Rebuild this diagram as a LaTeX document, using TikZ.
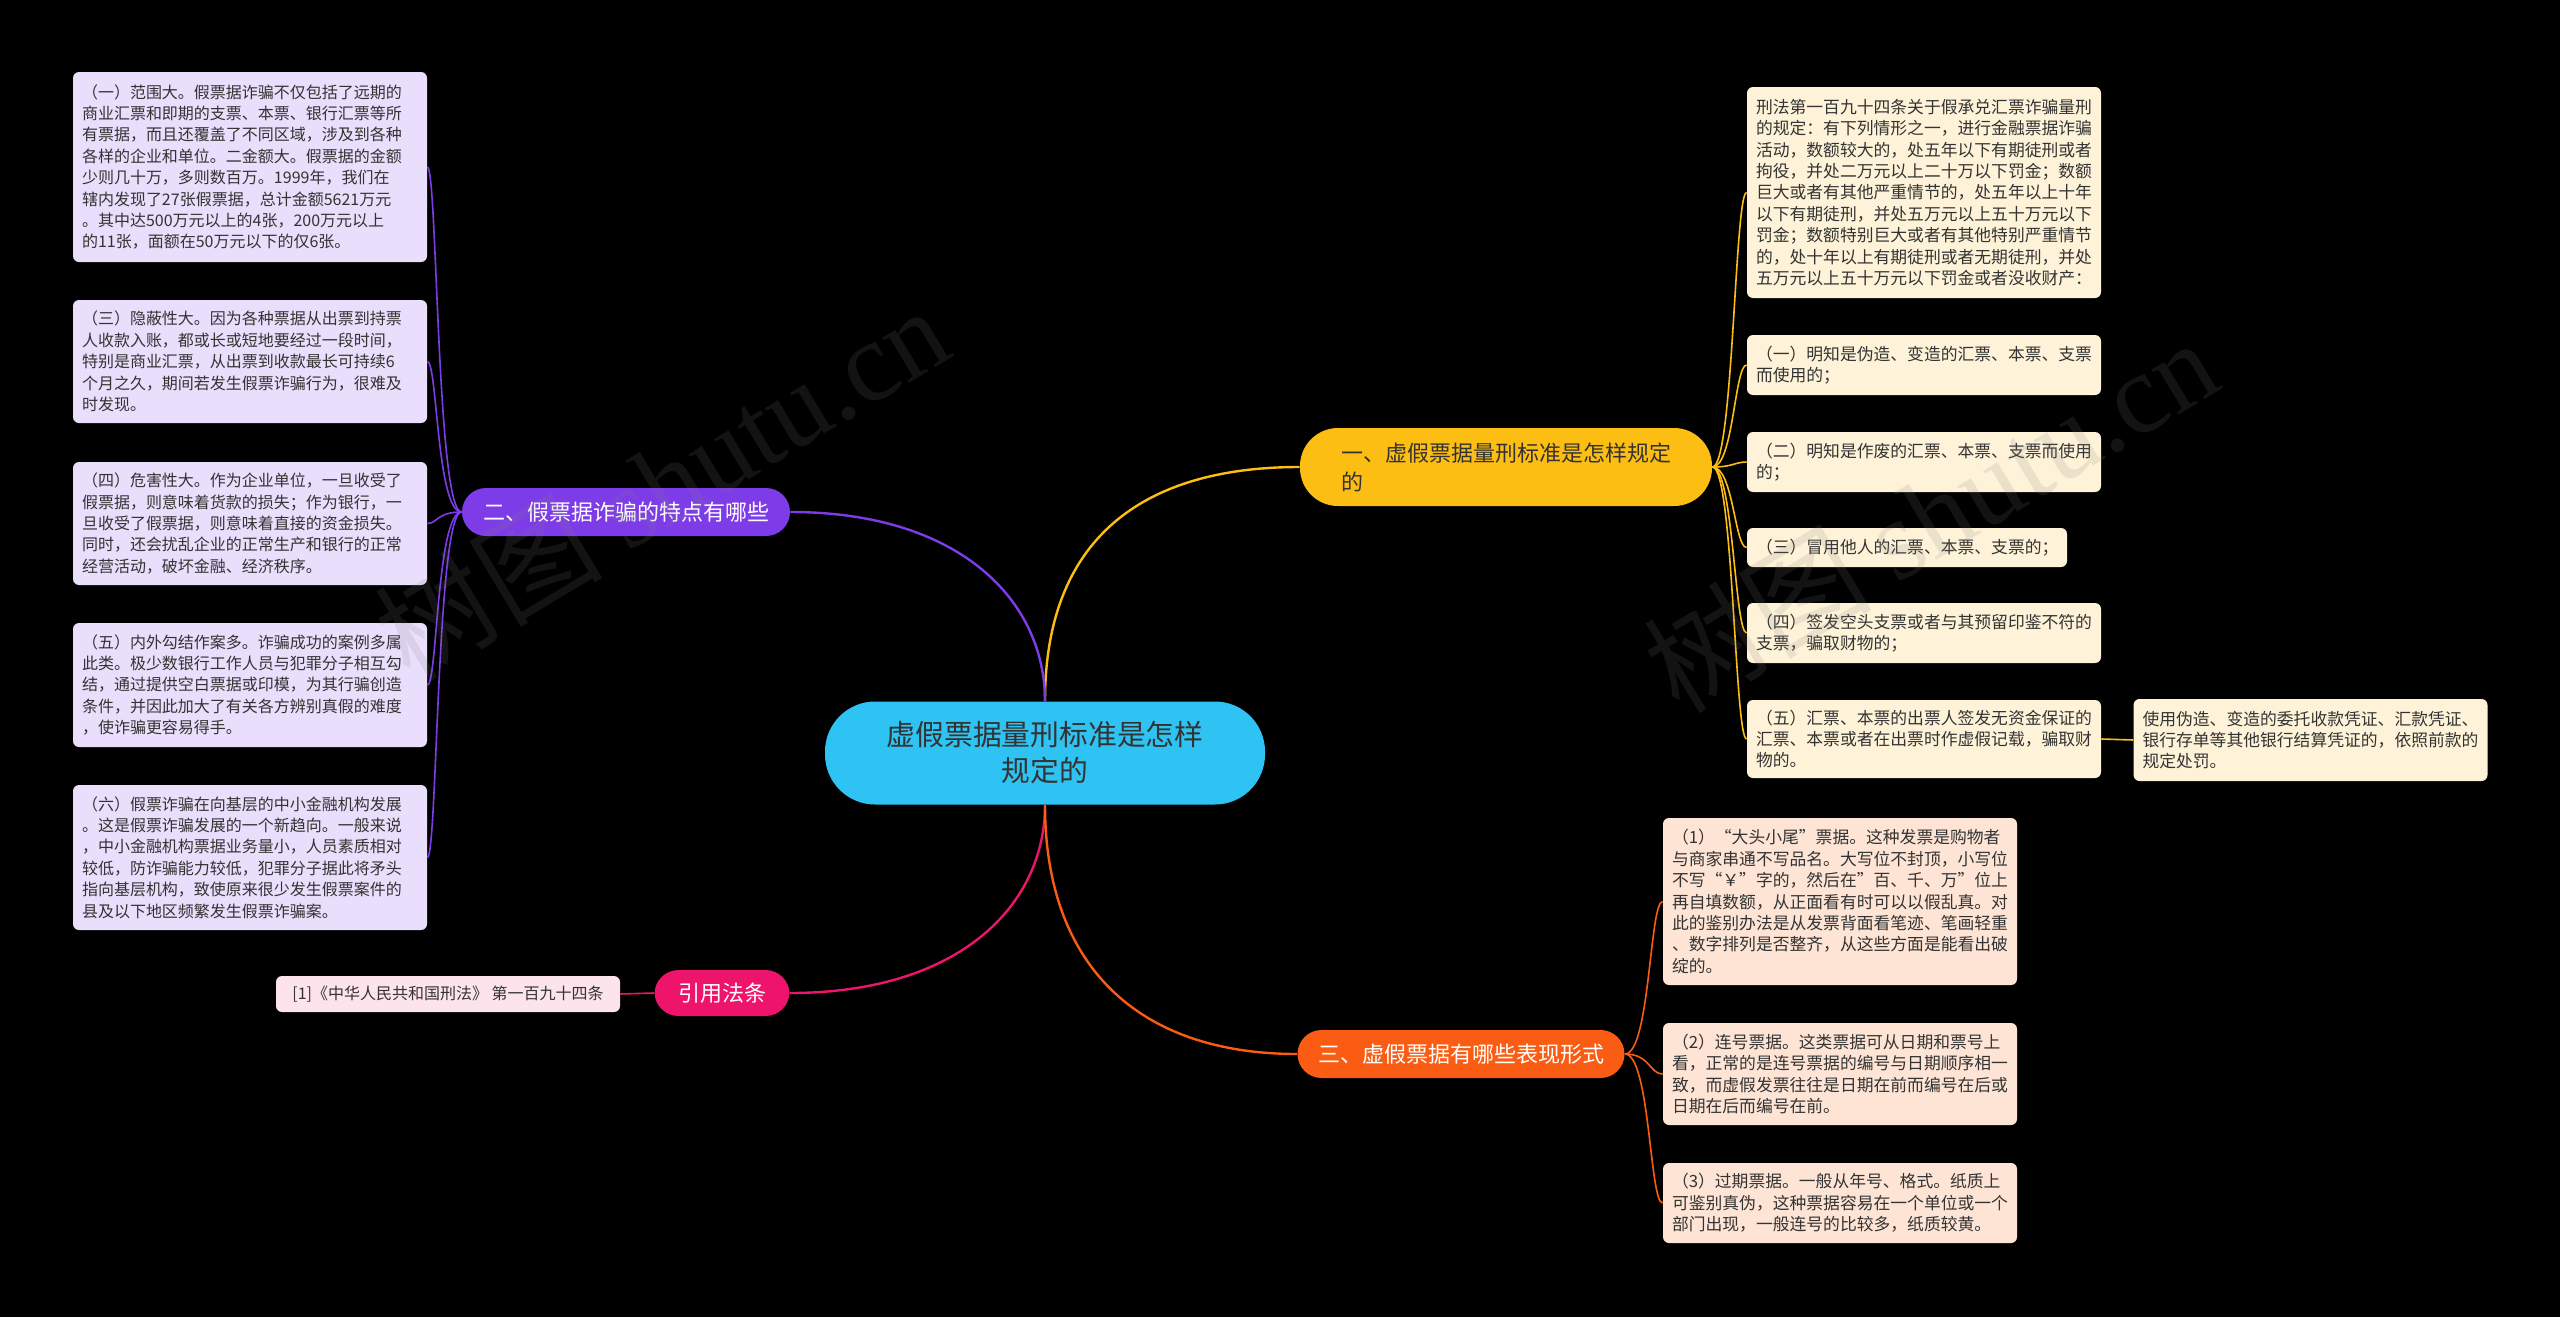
\documentclass[tikz,border=0pt]{standalone}
\usepackage{fontspec}
\setmainfont{Noto Sans CJK SC}
\newfontfamily\wmfont{Liberation Serif}
\definecolor{rootcyan}{HTML}{2EC3F2}
\definecolor{topicyellow}{HTML}{FDBE14}
\definecolor{topicpurple}{HTML}{7D3CE8}
\definecolor{topicpink}{HTML}{EF146B}
\definecolor{topicorange}{HTML}{F95C12}
\definecolor{leafpurple}{HTML}{E9DEFB}
\definecolor{leafyellow}{HTML}{FEF3D8}
\definecolor{leaforange}{HTML}{FDE4D5}
\definecolor{leafpink}{HTML}{FDE3EC}
\definecolor{inktext}{HTML}{333333}
\tikzset{
  root/.style={fill=rootcyan, text=inktext, rounded corners=25pt, minimum width=220pt, minimum height=51.5pt, align=center, font=\fontsize{14.4pt}{18pt}\selectfont},
  topic/.style={rounded corners=12pt, minimum height=24pt, inner xsep=0pt, text=white, align=center, font=\fontsize{11pt}{14.5pt}\selectfont},
  leaf/.style={rounded corners=3pt, inner xsep=4.5pt, inner ysep=0pt, align=left, text=inktext},
  lleaf/.style={leaf, fill=leafpurple, text width=168pt, font=\fontsize{8pt}{10.7pt}\selectfont},
  rleaf/.style={leaf, fill=leafyellow, text width=168pt, font=\fontsize{8.4pt}{10.7pt}\selectfont},
  oleaf/.style={leaf, fill=leaforange, text width=168pt, font=\fontsize{8.4pt}{10.7pt}\selectfont},
  link/.style={line width=1.2pt},
  twig/.style={line width=0.8pt},
  wmark/.style={text=gray, text opacity=0.15, rotate=31, font=\fontsize{57pt}{57pt}\selectfont}
}

\begin{document}
\begin{tikzpicture}[x=0.5pt, y=-0.5pt]
  \fill[black] (0,0) rectangle (2560,1317);

  \node[root] (c) at (1045,753) {虚假票据量刑标准是怎样\\规定的};

  \node[topic, fill=topicyellow, text=inktext, align=left, text width=165pt, inner xsep=20.5pt, minimum height=39pt, rounded corners=19pt] (b1) at (1506,467) {一、虚假票据量刑标准是怎样规定\\的};
  \node[topic, fill=topicpurple, minimum width=164pt] (b2) at (626,512) {二、假票据诈骗的特点有哪些};
  \node[topic, fill=topicorange, minimum width=163.5pt] (b3) at (1461,1054) {三、虚假票据有哪些表现形式};
  \node[topic, fill=topicpink, minimum width=67.5pt, minimum height=23pt] (b4) at (722,993) {引用法条};

  \node[lleaf, minimum height=95pt] (l1) at (250,167) {（一）范围大。假票据诈骗不仅包括了远期的\\商业汇票和即期的支票、本票、银行汇票等所\\有票据，而且还覆盖了不同区域，涉及到各种\\各样的企业和单位。二金额大。假票据的金额\\少则几十万，多则数百万。1999年，我们在\\辖内发现了27张假票据，总计金额5621万元\\。其中达500万元以上的4张，200万元以上\\的11张，面额在50万元以下的仅6张。};
  \node[lleaf, minimum height=61.5pt] (l2) at (250,361.5) {（三）隐蔽性大。因为各种票据从出票到持票\\人收款入账，都或长或短地要经过一段时间，\\特别是商业汇票，从出票到收款最长可持续6\\个月之久，期间若发生假票诈骗行为，很难及\\时发现。};
  \node[lleaf, minimum height=61.5pt] (l3) at (250,523.5) {（四）危害性大。作为企业单位，一旦收受了\\假票据，则意味着货款的损失；作为银行，一\\旦收受了假票据，则意味着直接的资金损失。\\同时，还会扰乱企业的正常生产和银行的正常\\经营活动，破坏金融、经济秩序。};
  \node[lleaf, minimum height=62pt] (l4) at (250,685) {（五）内外勾结作案多。诈骗成功的案例多属\\此类。极少数银行工作人员与犯罪分子相互勾\\结，通过提供空白票据或印模，为其行骗创造\\条件，并因此加大了有关各方辨别真假的难度\\，使诈骗更容易得手。};
  \node[lleaf, minimum height=72.5pt] (l5) at (250,857.5) {（六）假票诈骗在向基层的中小金融机构发展\\。这是假票诈骗发展的一个新趋向。一般来说\\，中小金融机构票据业务量小，人员素质相对\\较低，防诈骗能力较低，犯罪分子据此将矛头\\指向基层机构，致使原来很少发生假票案件的\\县及以下地区频繁发生假票诈骗案。};

  \node[leaf, fill=leafpink, minimum width=172pt, minimum height=18pt, font=\fontsize{8pt}{10pt}\selectfont] (cite) at (448,994) {[1]《中华人民共和国刑法》 第一百九十四条};

  \node[rleaf, minimum height=105.5pt] (r1) at (1924,192.5) {刑法第一百九十四条关于假承兑汇票诈骗量刑\\的规定：有下列情形之一，进行金融票据诈骗\\活动，数额较大的，处五年以下有期徒刑或者\\拘役，并处二万元以上二十万以下罚金；数额\\巨大或者有其他严重情节的，处五年以上十年\\以下有期徒刑，并处五万元以上五十万元以下\\罚金；数额特别巨大或者有其他特别严重情节\\的，处十年以上有期徒刑或者无期徒刑，并处\\五万元以上五十万元以下罚金或者没收财产：};
  \node[rleaf, minimum height=30pt] (r2) at (1924,365) {（一）明知是伪造、变造的汇票、本票、支票\\而使用的；};
  \node[rleaf, minimum height=30pt] (r3) at (1924,462) {（二）明知是作废的汇票、本票、支票而使用\\的；};
  \node[rleaf, text width=151pt, minimum height=19.5pt] (r4) at (1907,547.5) {（三）冒用他人的汇票、本票、支票的；};
  \node[rleaf, minimum height=30pt] (r5) at (1924,633) {（四）签发空头支票或者与其预留印鉴不符的\\支票，骗取财物的；};
  \node[rleaf, minimum height=39pt] (r6) at (1924,739) {（五）汇票、本票的出票人签发无资金保证的\\汇票、本票或者在出票时作虚假记载，骗取财\\物的。};
  \node[rleaf, minimum height=41pt] (r7) at (2310.5,740) {使用伪造、变造的委托收款凭证、汇款凭证、\\银行存单等其他银行结算凭证的，依照前款的\\规定处罚。};

  \node[oleaf, minimum height=83.5pt] (o1) at (1840,901.5) {（1）“大头小尾”票据。这种发票是购物者\\与商家串通不写品名。大写位不封顶，小写位\\不写“￥”字的，然后在”百、千、万”位上\\再自填数额，从正面看有时可以以假乱真。对\\此的鉴别办法是从发票背面看笔迹、笔画轻重\\、数字排列是否整齐，从这些方面是能看出破\\绽的。};
  \node[oleaf, minimum height=51pt] (o2) at (1840,1074) {（2）连号票据。这类票据可从日期和票号上\\看，正常的是连号票据的编号与日期顺序相一\\致，而虚假发票往往是日期在前而编号在后或\\日期在后而编号在前。};
  \node[oleaf, minimum height=40pt] (o3) at (1840,1203) {（3）过期票据。一般从年号、格式。纸质上\\可鉴别真伪，这种票据容易在一个单位或一个\\部门出现，一般连号的比较多，纸质较黄。};

  \draw[link, topicyellow] (c.north) .. controls +(0,-160) and +(-160,0) .. (b1.west);
  \draw[link, topicpurple] (c.north) .. controls +(0,-100) and +(170,0) .. (b2.east);
  \draw[link, topicpink] (c.south) .. controls +(0,100) and +(170,0) .. (b4.east);
  \draw[link, topicorange] (c.south) .. controls +(0,160) and +(-160,0) .. (b3.west);

  \foreach \n in {l1,l2,l3,l4,l5}
    \draw[twig, topicpurple] (b2.west) .. controls +(-25,0) and +(10,0) .. (\n.east);
  \foreach \n in {r1,r2,r3,r4,r5,r6}
    \draw[twig, topicyellow] (b1.east) .. controls +(21,0) and +(-12,0) .. (\n.west);
  \draw[twig, topicyellow] (r6.east) -- (r7.west);
  \foreach \n in {o1,o2,o3}
    \draw[twig, topicorange] (b3.east) .. controls +(25,0) and +(-13,0) .. (\n.west);
  \draw[twig, topicpink] (b4.west) -- (cite.east);

  \node[wmark] (w1) at (661,482) {树图 {\wmfont shutu.cn}};
  \node[wmark] (w2) at (1930,514) {树图 {\wmfont shutu.cn}};
\end{tikzpicture}
\end{document}
